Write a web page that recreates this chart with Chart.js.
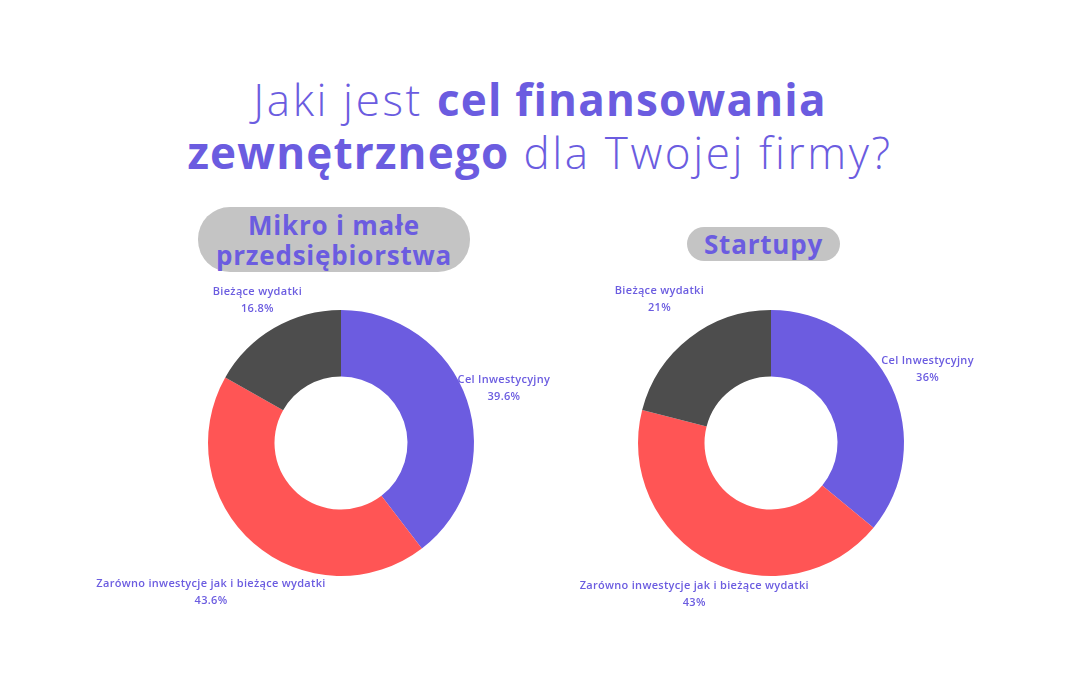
<!DOCTYPE html>
<html lang="pl">
<head>
<meta charset="utf-8">
<title>Cel finansowania zewnętrznego</title>
<script src="https://cdn.jsdelivr.net/npm/chart.js@4/dist/chart.umd.min.js"></script>
<style>
  html, body { margin: 0; padding: 0; background: #fff; }
  body { width: 1080px; height: 675px; position: relative; overflow: hidden; font-family: "Open Sans", sans-serif; color: #6b5ce0; }
  #title { position: absolute; left: 0; top: 73px; width: 1080px; text-align: center; font-size: 44px; line-height: 53px; font-weight: 300; letter-spacing: 2.6px; }
  #title b { font-weight: 700; letter-spacing: 1.2px; }
  .pill { position: absolute; background: #c4c4c4; color: #6b5ce0; font-weight: 700; font-size: 26px; line-height: 30px; letter-spacing: 0.8px; text-align: center; border-radius: 32px; display: flex; align-items: center; justify-content: center; }
  #pill-micro { left: 198px; top: 207px; width: 272px; height: 65px; }
  #pill-startup { left: 687px; top: 227px; width: 153px; height: 34px; border-radius: 17px; }
  .chart-box { position: absolute; top: 243px; width: 540px; height: 400px; }
  #box-micro { left: 71px; }
  #box-startup { left: 501px; }
</style>
</head>
<body>
<div id="title">Jaki jest <b>cel finansowania</b><br><b>zewnętrznego</b> dla Twojej firmy?</div>
<div class="pill" id="pill-micro">Mikro i małe<br>przedsiębiorstwa</div>
<div class="pill" id="pill-startup">Startupy</div>
<div class="chart-box" id="box-micro"><canvas id="chart-micro" width="540" height="400"></canvas></div>
<div class="chart-box" id="box-startup"><canvas id="chart-startup" width="540" height="400"></canvas></div>
<script>
  const categories = ['Cel Inwestycyjny', 'Zarówno inwestycje jak i bieżące wydatki', 'Bieżące wydatki'];
  const microValues = [39.6, 43.6, 16.8];
  const startupValues = [36, 43, 21];
  const sliceColors = ['#6c5ce0', '#ff5555', '#4d4d4d'];

  // draws the two-line label outside each slice
  const outsideLabels = {
    id: 'outsideLabels',
    afterDatasetsDraw(chart, args, opts) {
      const ctx = chart.ctx;
      const meta = chart.getDatasetMeta(0);
      const values = chart.data.datasets[0].data;
      ctx.save();
      ctx.fillStyle = opts.color;
      ctx.font = opts.font;
      ctx.letterSpacing = '0.3px';
      ctx.textAlign = 'center';
      ctx.textBaseline = 'middle';
      meta.data.forEach((arc, i) => {
        const p = arc.getProps(['x', 'y', 'startAngle', 'endAngle'], true);
        const mid = (p.startAngle + p.endAngle) / 2;
        const dist = opts.distances[i];
        const x = p.x + Math.cos(mid) * dist;
        const y = p.y + Math.sin(mid) * dist;
        ctx.fillText(chart.data.labels[i], x, y - 8);
        ctx.fillText(values[i] + '%', x, y + 9);
      });
      ctx.restore();
    }
  };

  function makeChart(id, values, distances) {
    return new Chart(document.getElementById(id), {
      type: 'doughnut',
      data: {
        labels: categories,
        datasets: [{ data: values, backgroundColor: sliceColors, borderWidth: 0 }]
      },
      options: {
        responsive: false,
        animation: false,
        cutout: '50%',
        layout: { padding: { left: 137, right: 137, top: 67, bottom: 67 } },
        plugins: {
          legend: { display: false },
          tooltip: { enabled: false },
          outsideLabels: { distances, color: '#6b5ce0', font: '600 11px "Open Sans"' }
        }
      },
      plugins: [outsideLabels]
    });
  }

  makeChart('chart-micro', microValues, [172, 198, 166]);
  makeChart('chart-startup', startupValues, [173, 169, 182]);
</script>
</body>
</html>
